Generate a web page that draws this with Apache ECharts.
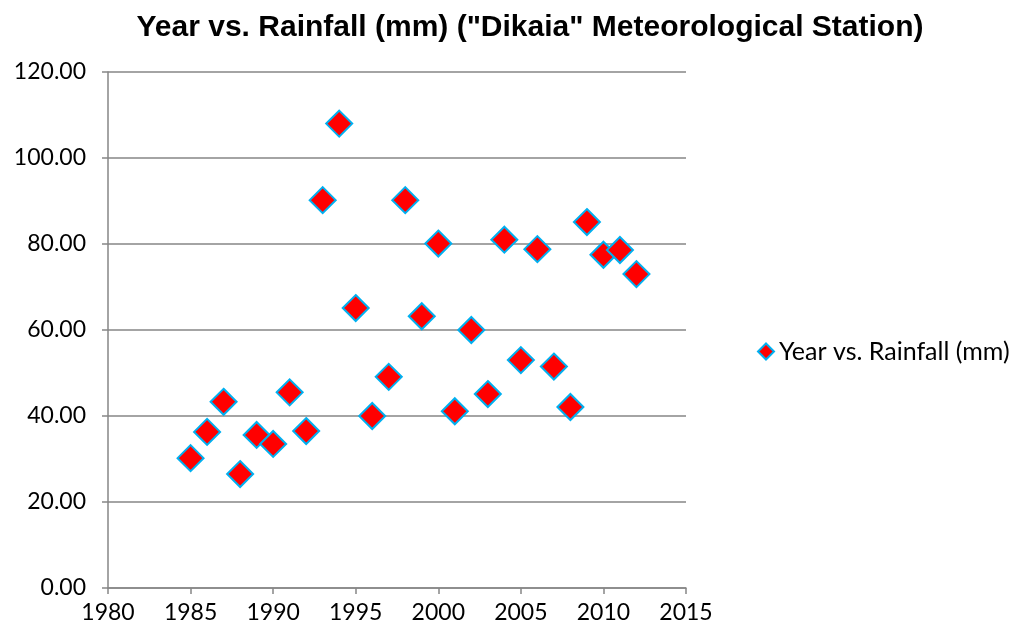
<!DOCTYPE html>
<html>
<head>
<meta charset="utf-8">
<script src="https://cdn.jsdelivr.net/npm/echarts@6/dist/echarts.min.js"></script>
<style>html,body{margin:0;padding:0;background:#fff}#c{width:1014px;height:633px}</style>
</head>
<body>
<div id="c"></div>
<script>
const years = [1985,1986,1987,1988,1989,1990,1991,1992,1993,1994,1995,1996,1997,1998,1999,2000,2001,2002,2003,2004,2005,2006,2007,2008,2009,2010,2011,2012];
const rainfall = [30.2,36.3,43.3,26.5,35.6,33.5,45.5,36.5,90.2,108.0,65.1,40.0,49.1,90.2,63.2,80.1,41.1,60.0,45.1,81.0,53.0,78.8,51.5,42.1,85.1,77.5,78.6,73.0];
const seriesName = 'Year vs. Rainfall (mm)';
const titleText = 'Year vs. Rainfall (mm) ("Dikaia" Meteorological Station)';

const chart = echarts.init(document.getElementById('c'));
const lab = {fontFamily:'Lato, "Open Sans", sans-serif', fontSize:23, color:'#000'};
chart.setOption({
  animation:false,
  title:{text:titleText,left:525,top:8,textAlign:'center',textStyle:{fontFamily:'"Liberation Sans", Arial, sans-serif',fontWeight:'bold',fontSize:30,color:'#000'}},
  legend:{data:[seriesName],left:752,top:334,itemWidth:16,itemHeight:16,itemGap:5,textStyle:Object.assign({},lab,{fontSize:25})},
  grid:{left:108,right:328,top:72,bottom:45},
  xAxis:{type:'value',min:1980,max:2015,interval:5,
    axisLine:{lineStyle:{color:'#868686',width:1.5}},
    axisTick:{show:true,length:6,lineStyle:{color:'#868686',width:1.5}},
    axisLabel:Object.assign({margin:13,formatter:v=>String(v)},lab),
    splitLine:{show:false}},
  yAxis:{type:'value',min:0,max:120,interval:20,
    axisLine:{show:true,lineStyle:{color:'#868686',width:1.5}},
    axisTick:{show:true,length:6,lineStyle:{color:'#868686',width:1.5}},
    axisLabel:Object.assign({margin:22,formatter:v=>v.toFixed(2)},lab),
    splitLine:{show:true,lineStyle:{color:'#868686',width:1.5}}},
  series:[{name:seriesName,type:'scatter',symbol:'diamond',symbolSize:26,
    itemStyle:{color:'#FF0000',borderColor:'#00B0F0',borderWidth:2,opacity:1},
    data:years.map((y,i)=>[y,rainfall[i]])}]
});
</script>
</body>
</html>
